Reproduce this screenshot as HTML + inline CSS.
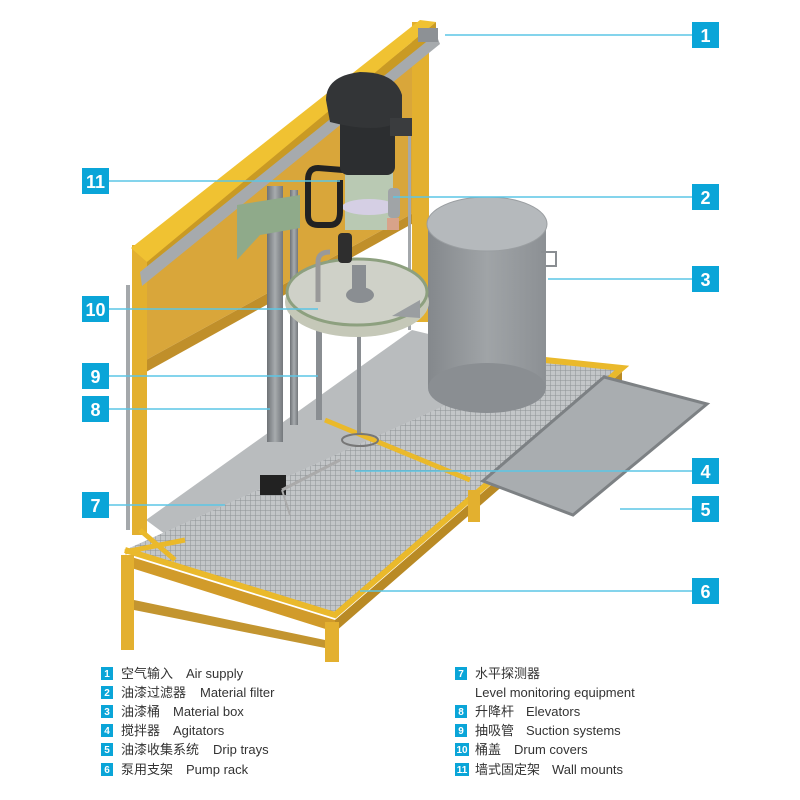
<!DOCTYPE html>
<html><head><meta charset="utf-8"><style>
html,body{margin:0;padding:0;background:#fff;}
svg{display:block;}
.t{font-family:"Liberation Sans","Noto Sans CJK SC",sans-serif;font-size:13px;fill:#333;}
.n{font-family:"Liberation Sans",sans-serif;font-weight:bold;fill:#fff;}
</style></head><body>
<svg width="800" height="800" viewBox="0 0 800 800" xmlns="http://www.w3.org/2000/svg">
<defs>
<linearGradient id="drum" x1="0" x2="1"><stop offset="0" stop-color="#84888c"/><stop offset="0.5" stop-color="#a0a4a7"/><stop offset="1" stop-color="#8c9094"/></linearGradient>
<pattern id="grate" width="5" height="5" patternUnits="userSpaceOnUse"><rect width="5" height="5" fill="#c3c6c8"/><path d="M0 0H5M0 0V5" stroke="#8e9295" stroke-width="1"/></pattern>
<linearGradient id="post" x1="0" x2="1"><stop offset="0" stop-color="#6f7377"/><stop offset="0.5" stop-color="#a7abae"/><stop offset="1" stop-color="#74787c"/></linearGradient>
</defs>
<polygon points="146,520 412,330 545,362 200,560" fill="#b9bcbe"/>
<polygon points="146,250 428,30 428,205 146,360" fill="#d9a63a"/>
<polygon points="146,360 428,205 428,215 146,372" fill="#c08f2a"/>
<rect x="132" y="245" width="15" height="290" fill="#e3b02f"/>
<rect x="412" y="22" width="17" height="300" fill="#e3b02f"/>
<rect x="126" y="285" width="4" height="245" fill="#a4a8ab"/>
<rect x="408" y="120" width="3" height="210" fill="#a4a8ab"/>
<polygon points="131,248 420,20 436,22 147,262" fill="#f0c232"/>
<polygon points="147,262 436,22 436,34 147,274" fill="#c99a24"/>
<polygon points="140,272 436,34 440,44 142,286" fill="#a6aaad"/>
<rect x="418" y="28" width="20" height="14" fill="#8d9195"/>
<polygon points="125,550 335,615 622,368 545,360" fill="url(#grate)"/>
<polyline points="125,550 335,615 622,368 545,360" fill="none" stroke="#eab92b" stroke-width="6"/>
<line x1="325" y1="420" x2="470" y2="480" stroke="#eab92b" stroke-width="5"/>
<line x1="125" y1="552" x2="185" y2="540" stroke="#eab92b" stroke-width="5"/>
<line x1="140" y1="530" x2="175" y2="560" stroke="#eab92b" stroke-width="5"/>
<polygon points="125,555 335,620 335,632 125,566" fill="#d19b2a"/>
<polygon points="335,620 622,372 622,382 335,632" fill="#b98a25"/>
<rect x="121" y="555" width="13" height="95" fill="#e3b02f"/>
<rect x="325" y="622" width="14" height="40" fill="#e3b02f"/>
<rect x="468" y="490" width="12" height="32" fill="#e3b02f"/>
<polygon points="134,600 325,640 325,648 134,610" fill="#c39530"/>
<polygon points="604,377 707,404 573,515 483,481" fill="#a9adb0" stroke="#7d8184" stroke-width="3"/>
<rect x="428" y="224" width="118" height="164" fill="url(#drum)"/>
<ellipse cx="487" cy="388" rx="59" ry="25" fill="#8a8e92"/>
<ellipse cx="487" cy="224" rx="60" ry="27" fill="#b5b9bc" stroke="#9a9ea1"/>
<path d="M541 252 L556 252 L556 266 L545 266" fill="none" stroke="#8a8e92" stroke-width="2"/>
<rect x="267" y="186" width="16" height="256" fill="url(#post)"/>
<rect x="290" y="190" width="8" height="235" fill="url(#post)"/>
<polygon points="237,205 300,195 300,228 260,235 237,260" fill="#8faa8a"/>
<rect x="260" y="475" width="26" height="20" fill="#222"/>
<line x1="282" y1="490" x2="340" y2="460" stroke="#aaa" stroke-width="3"/>
<line x1="282" y1="490" x2="290" y2="515" stroke="#aaa" stroke-width="2"/>
<rect x="316" y="325" width="6" height="95" fill="#8a8e92"/>
<rect x="357" y="325" width="4" height="110" fill="#8a8e92"/>
<ellipse cx="360" cy="440" rx="18" ry="6" fill="none" stroke="#777" stroke-width="2"/>
<rect x="345" y="150" width="48" height="80" fill="#b9c9b3"/>
<ellipse cx="369" cy="207" rx="27" ry="8" fill="#d5cfe4"/>
<path d="M343 170 L318 168 Q308 168 308 180 L308 215 Q308 225 318 225 L330 225 Q340 225 340 212 L340 180" fill="none" stroke="#222" stroke-width="6"/>
<rect x="340" y="115" width="55" height="60" rx="8" fill="#2c2e30"/>
<path d="M326 100 Q326 76 360 72 Q395 72 402 95 L402 120 Q380 135 330 122 Z" fill="#333537"/>
<rect x="390" y="118" width="22" height="18" fill="#3a3c3e"/>
<rect x="388" y="188" width="12" height="30" rx="4" fill="#a0a4a7"/>
<rect x="387" y="218" width="12" height="12" fill="#d8a38a"/>
<ellipse cx="357" cy="302" rx="72" ry="35" fill="#c5c8b8"/>
<ellipse cx="357" cy="292" rx="70" ry="33" fill="#cfd1c8" stroke="#8da07f" stroke-width="3"/>
<ellipse cx="360" cy="295" rx="14" ry="8" fill="#8a8e92"/>
<rect x="352" y="265" width="14" height="30" fill="#8a8e92"/>
<rect x="338" y="233" width="14" height="30" rx="4" fill="#2e2e2e"/>
<path d="M318 302 L318 262 Q318 252 330 252" fill="none" stroke="#999" stroke-width="5"/>
<path d="M392 316 L420 300 L420 318 Z" fill="#9a9ea1"/>
<g stroke="#5cc6e5" stroke-width="1.5">
<line x1="445" y1="35" x2="692" y2="35"/>
<line x1="393" y1="197" x2="692" y2="197"/>
<line x1="548" y1="279" x2="692" y2="279"/>
<line x1="355" y1="471" x2="692" y2="471"/>
<line x1="620" y1="509" x2="692" y2="509"/>
<line x1="360" y1="591" x2="692" y2="591"/>
<line x1="109" y1="181" x2="340" y2="181"/>
<line x1="109" y1="309" x2="318" y2="309"/>
<line x1="109" y1="376" x2="318" y2="376"/>
<line x1="109" y1="409" x2="270" y2="409"/>
<line x1="109" y1="505" x2="225" y2="505"/>
</g>
<g fill="#0aa5d8">
<rect x="692" y="22" width="27" height="26"/><rect x="692" y="184" width="27" height="26"/>
<rect x="692" y="266" width="27" height="26"/><rect x="692" y="458" width="27" height="26"/>
<rect x="692" y="496" width="27" height="26"/><rect x="692" y="578" width="27" height="26"/>
<rect x="82" y="168" width="27" height="26"/><rect x="82" y="296" width="27" height="26"/>
<rect x="82" y="363" width="27" height="26"/><rect x="82" y="396" width="27" height="26"/>
<rect x="82" y="492" width="27" height="26"/>
</g>
<g class="n" font-size="18" text-anchor="middle">
<text x="705.5" y="42">1</text><text x="705.5" y="204">2</text><text x="705.5" y="286">3</text>
<text x="705.5" y="478">4</text><text x="705.5" y="516">5</text><text x="705.5" y="598">6</text>
<text x="95.5" y="188">11</text><text x="95.5" y="316">10</text><text x="95.5" y="383">9</text>
<text x="95.5" y="416">8</text><text x="95.5" y="512">7</text>
</g>
<g fill="#0aa5d8">
<rect x="101" y="667" width="12" height="13"/><rect x="101" y="686" width="12" height="13"/>
<rect x="101" y="705" width="12" height="13"/><rect x="101" y="724" width="12" height="13"/>
<rect x="101" y="743" width="12" height="13"/><rect x="101" y="763" width="12" height="13"/>
<rect x="455" y="667" width="12" height="13"/><rect x="455" y="705" width="12" height="13"/>
<rect x="455" y="724" width="12" height="13"/><rect x="455" y="743" width="14" height="13"/>
<rect x="455" y="763" width="14" height="13"/>
</g>
<g class="n" font-size="10" text-anchor="middle">
<text x="107" y="677">1</text><text x="107" y="696">2</text><text x="107" y="715">3</text>
<text x="107" y="734">4</text><text x="107" y="753">5</text><text x="107" y="773">6</text>
<text x="461" y="677">7</text><text x="461" y="715">8</text><text x="461" y="734">9</text>
<text x="462" y="753">10</text><text x="462" y="773">11</text>
</g>
<g class="t">
<text x="121" y="678">空气输入</text><text x="186" y="678">Air supply</text>
<text x="121" y="697">油漆过滤器</text><text x="200" y="697">Material filter</text>
<text x="121" y="716">油漆桶</text><text x="173" y="716">Material box</text>
<text x="121" y="735">搅拌器</text><text x="173" y="735">Agitators</text>
<text x="121" y="754">油漆收集系统</text><text x="213" y="754">Drip trays</text>
<text x="121" y="774">泵用支架</text><text x="186" y="774">Pump rack</text>
<text x="475" y="678">水平探测器</text>
<text x="475" y="697">Level monitoring equipment</text>
<text x="475" y="716">升降杆</text><text x="526" y="716">Elevators</text>
<text x="475" y="735">抽吸管</text><text x="526" y="735">Suction systems</text>
<text x="475" y="754">桶盖</text><text x="514" y="754">Drum covers</text>
<text x="475" y="774">墙式固定架</text><text x="552" y="774">Wall mounts</text>
</g>
</svg>
</body></html>
